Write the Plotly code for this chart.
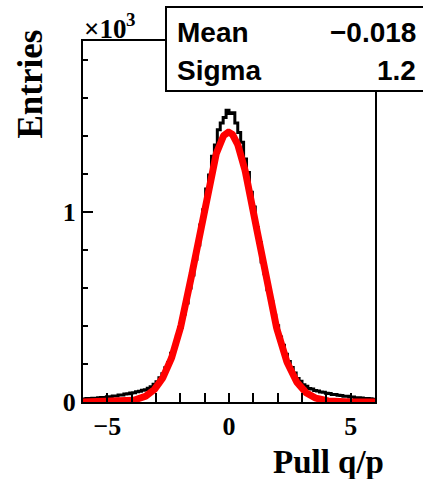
import numpy as np
import plotly.graph_objects as go

# ---------------- data ----------------
x_min, x_max = -6.0, 6.0
counts = [
    16, 18, 17, 20, 19, 22, 24, 24, 28, 28,
    32, 32, 37, 37, 42, 43, 48, 49, 54, 56,
    62, 65, 73, 80, 93, 106, 128, 149, 180, 208,
    256, 292, 348, 394, 463, 521, 600, 668, 751, 826,
    932, 1012, 1121, 1195, 1294, 1352, 1433, 1468, 1497, 1536,
    1519, 1522, 1469, 1418, 1367, 1279, 1208, 1104, 1026, 918,
    840, 737, 675, 591, 529, 456, 401, 342, 299, 251,
    213, 181, 152, 124, 109, 91, 83, 71, 68, 60,
    58, 52, 51, 46, 45, 40, 39, 35, 34, 30,
    30, 26, 26, 23, 22, 21, 19, 18, 17, 15,
]
fit_amp = 1420.0
fit_mean = -0.02
fit_sigma = 1.23

stat_labels = ["Mean", "Sigma"]
stat_values = ["\u22120.018", "1.2"]

x_tickvals = [-5, 0, 5]
x_ticktext = ["\u22125", "0", "5"]
y_tickvals = [0, 1000]
y_ticktext = ["0", "1"]
y_range = [0, 1900]

x_title = "Pull q/p"
y_title = "Entries"
y_exponent_base = "\u00d710"
y_exponent_power = "3"

# ---------------- figure ----------------
W, H = 423, 479
L, R, T, B = 83, 48, 41, 77
pw, ph = W - L - R, H - T - B


def px_x(p):
    return (p - L) / pw


def px_y(p):
    return (H - B - p) / ph


nb = len(counts)
edges = np.linspace(x_min, x_max, nb + 1)
hx = list(edges[:-1]) + [edges[-1]]
hy = list(counts) + [counts[-1]]

fx = np.linspace(x_min, x_max, 600)
fy = fit_amp * np.exp(-0.5 * ((fx - fit_mean) / fit_sigma) ** 2)

fig = go.Figure()
fig.add_trace(go.Scatter(x=hx, y=hy, mode="lines", line=dict(color="black", width=3, shape="hv"),
                         hoverinfo="skip", showlegend=False))
fig.add_trace(go.Scatter(x=fx, y=fy, mode="lines", line=dict(color="#ff0000", width=7),
                         hoverinfo="skip", showlegend=False))

serif = dict(family="Liberation Serif", size=26, color="black", weight="bold")

fig.update_layout(
    width=W, height=H,
    margin=dict(l=L, r=R, t=T, b=B, pad=0),
    plot_bgcolor="white", paper_bgcolor="white",
    showlegend=False,
    xaxis=dict(range=[x_min, x_max], showgrid=False, zeroline=False,
               showline=True, linecolor="black", linewidth=2, mirror=True,
               ticks="inside", ticklen=9, tickwidth=2, tickcolor="black",
               tickvals=x_tickvals, ticktext=x_ticktext, tickfont=serif,
               minor=dict(ticks="inside", ticklen=9, tickwidth=2, tickcolor="black", dtick=1, showgrid=False)),
    yaxis=dict(range=y_range, showgrid=False, zeroline=False,
               showline=True, linecolor="black", linewidth=2, mirror=True,
               ticks="inside", ticklen=10, tickwidth=2, tickcolor="black",
               tickvals=y_tickvals, ticktext=y_ticktext, tickfont=serif,
               minor=dict(ticks="inside", ticklen=5, tickwidth=2, tickcolor="black", dtick=200, showgrid=False)),
)

# stats box
fig.add_shape(type="rect", xref="paper", yref="paper",
              x0=px_x(166), x1=px_x(440), y0=px_y(91), y1=px_y(7),
              line=dict(color="black", width=2), fillcolor="white", layer="above")

sans = dict(family="Liberation Sans", size=28, color="black", weight="bold")
for i, (lab, val) in enumerate(zip(stat_labels, stat_values)):
    yc = [32, 70][i]
    fig.add_annotation(text=lab, xref="paper", yref="paper", x=px_x(175), y=px_y(yc),
                       xanchor="left", yanchor="middle", showarrow=False, font=sans)
    fig.add_annotation(text=val, xref="paper", yref="paper", x=px_x(418), y=px_y(yc),
                       xanchor="right", yanchor="middle", showarrow=False, font=sans)

# exponent (x10^3)
fig.add_annotation(text=y_exponent_base, xref="paper", yref="paper", x=px_x(82), y=px_y(29),
                   xanchor="left", yanchor="middle", showarrow=False,
                   font=dict(family="Liberation Serif", size=27, color="black", weight="bold"))
fig.add_annotation(text=y_exponent_power, xref="paper", yref="paper", x=px_x(124), y=px_y(20),
                   xanchor="left", yanchor="middle", showarrow=False,
                   font=dict(family="Liberation Serif", size=19, color="black", weight="bold"))

# axis titles
fig.add_annotation(text=x_title, xref="paper", yref="paper", x=px_x(386), y=px_y(462),
                   xanchor="right", yanchor="middle", showarrow=False,
                   font=dict(family="Liberation Serif", size=33, color="black", weight="bold"))
fig.add_annotation(text=y_title, xref="paper", yref="paper", x=px_x(30), y=px_y(28),
                   xanchor="center", yanchor="top", textangle=-90, showarrow=False,
                   font=dict(family="Liberation Serif", size=35, color="black", weight="bold"))

fig.write_html("out.html")
